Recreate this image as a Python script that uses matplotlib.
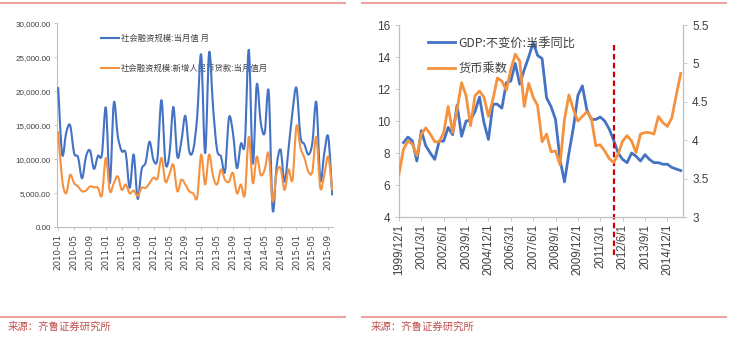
import numpy as np
import matplotlib
matplotlib.use("Agg")
import matplotlib.pyplot as plt
from matplotlib.path import Path
from matplotlib.patches import PathPatch
from matplotlib.lines import Line2D

plt.rcParams['font.family'] = ['Noto Sans CJK SC', 'DejaVu Sans']

# -------------------------------
# Left: 社会融资规模 (monthly, 2010-01 .. 2015-10)
# -------------------------------
months = ["%d-%02d" % (y, m) for y in range(2010, 2016) for m in range(1, 13)][:70]
tsf_total = [20500, 10700, 13900, 15000, 10900, 10300, 7200, 10400, 11300, 8600, 10500, 10700,
             17600, 6500, 18300, 13400, 11200, 10900, 5800, 10700, 4200, 8500, 9500, 12600,
             9900, 10200, 18700, 9500, 10700, 17700, 10400, 12600, 16400, 11200, 11400, 16300,
             25400, 10900, 25700, 17600, 11400, 10400, 8200, 16100, 13900, 8700, 12300, 12400,
             26100, 9400, 21000, 15400, 13900, 20000, 2600, 9000, 11400, 6700, 11500, 17000,
             20500, 13400, 12200, 10700, 12400, 18400, 7000, 10900, 13300, 4800]
tsf_loans = [14000, 7000, 5000, 7700, 6500, 6000, 5300, 5400, 6000, 5900, 5800, 4700,
             10200, 5300, 6500, 7500, 5500, 6300, 5000, 5400, 4600, 5800, 5800, 6500,
             7300, 7200, 10200, 6700, 7800, 9200, 5300, 7000, 6300, 5300, 5000, 4400,
             10700, 6300, 10700, 7500, 6300, 8500, 7000, 6700, 8000, 5000, 6300, 4800,
             13300, 6500, 10400, 7700, 8500, 10900, 3800, 8000, 8700, 5500, 8500, 7000,
             14900, 11700, 10200, 8200, 8200, 13300, 5800, 7700, 10400, 5500]
left_labels = ["社会融资规模:当月值 月", "社会融资规模:新增人民币贷款:当月值月"]

# -------------------------------
# Right: GDP vs 货币乘数 (quarterly, 1999/12 .. 2015/9)
# -------------------------------
quarters = ["%d/%d/1" % (1999 + (11 + 3 * k) // 12, (11 + 3 * k) % 12 + 1) for k in range(64)]
gdp = [np.nan, 8.65, 9.0, 8.75, 7.5, 9.4, 8.45, 8.0, 7.6, 8.75, 8.75, 9.6,
       9.15, 11.0, 9.05, 10.0, 10.05, 10.6, 11.5, 9.9, 8.85, 11.05, 11.05, 10.8,
       12.4, 12.5, 13.6, 12.3, 13.2, 14.0, 14.9, 14.1, 13.9, 11.45, 10.9, 10.1,
       7.6, 6.2, 8.0, 9.6, 11.6, 12.2, 10.7, 10.1, 10.1, 10.25, 10.0, 9.5,
       8.8, 8.0, 7.6, 7.4, 8.0, 7.8, 7.5, 7.9, 7.6, 7.4, 7.4, 7.3,
       7.3, 7.1, 7.0, 6.9]
multiplier = [3.56, 3.88, 3.99, 3.95, 3.80, 4.08, 4.16, 4.08, 3.98, 3.98, 4.10, 4.44,
              4.10, 4.40, 4.75, 4.58, 4.19, 4.58, 4.64, 4.56, 4.31, 4.53, 4.81, 4.77,
              4.65, 4.92, 5.12, 5.03, 4.44, 4.74, 4.56, 4.45, 3.98, 4.08, 3.85, 3.86,
              3.68, 4.27, 4.59, 4.40, 4.25, 4.31, 4.37, 4.29, 3.93, 3.94, 3.86, 3.76,
              3.71, 3.82, 3.99, 4.06, 3.99, 3.84, 4.08, 4.10, 4.10, 4.08, 4.31, 4.23,
              4.18, 4.29, 4.59, 4.87]
right_labels = ["GDP:不变价:当季同比", "货币乘数"]
policy_quarter = "2011/12/1"
source = "来源：齐鲁证券研究所"

blue = '#4472C4'
orange = '#F59240'
gray = '#BFBFBF'
txt = '#404040'


def smooth_path(x, y):
    # Excel-style smoothed line: Catmull-Rom segments as cubic Beziers
    verts = [(x[0], y[0])]
    codes = [Path.MOVETO]
    n = len(x)
    for k in range(n - 1):
        p0 = max(k - 1, 0)
        p3 = min(k + 2, n - 1)
        c1 = (x[k] + (x[k + 1] - x[p0]) / 6.0, y[k] + (y[k + 1] - y[p0]) / 6.0)
        c2 = (x[k + 1] - (x[p3] - x[k]) / 6.0, y[k + 1] - (y[p3] - y[k]) / 6.0)
        verts += [c1, c2, (x[k + 1], y[k + 1])]
        codes += [Path.CURVE4] * 3
    return Path(verts, codes)


fig = plt.figure(figsize=(7.33, 3.37), dpi=100)

# ---- left panel ----
ax1 = fig.add_axes([0.0778, 0.3255, 0.3765, 0.6053])
xm = np.arange(len(months))
for vals, col in [(tsf_total, blue), (tsf_loans, orange)]:
    ax1.add_patch(PathPatch(smooth_path(xm, np.array(vals, float)), fill=False,
                            edgecolor=col, lw=1.5, zorder=3, capstyle='round', joinstyle='round'))
ax1.set_xlim(-0.3, 69.2)
ax1.set_ylim(0, 30000)
ax1.set_yticks(np.arange(0, 30001, 5000))
ax1.set_yticklabels(["{:,.2f}".format(v) for v in np.arange(0, 30001, 5000)],
                    fontsize=5.8, color=txt, family=['Liberation Sans'])
ax1.set_xticks(xm[::4])
ax1.set_xticklabels(months[::4], rotation=90, fontsize=6.2, color=txt, family=['DejaVu Sans'])
ax1.tick_params(axis='both', length=2.5, width=0.6, color=gray, pad=2)
for s in ['top', 'right']:
    ax1.spines[s].set_visible(False)
for s in ['left', 'bottom']:
    ax1.spines[s].set_color(gray)
    ax1.spines[s].set_linewidth(0.8)
h1 = [Line2D([], [], color=blue, lw=1.5), Line2D([], [], color=orange, lw=1.5)]
leg1 = ax1.legend(h1, left_labels, loc='upper left', bbox_to_anchor=(0.16, 0.95), frameon=False,
                  fontsize=6, borderpad=0, borderaxespad=0, handlelength=2.1,
                  handletextpad=0.3, labelspacing=2.6)
for t in leg1.get_texts():
    t.set_color(txt)
leg1.set_zorder(1)

# ---- right panel ----
ax2 = fig.add_axes([0.5443, 0.356, 0.3875, 0.5697])
ax3 = ax2.twinx()
xq = np.arange(len(quarters))
ax2.plot(xq, gdp, color=blue, lw=2.0, zorder=3, solid_joinstyle='round')
ax3.plot(xq, multiplier, color=orange, lw=2.0, zorder=3, solid_joinstyle='round')
vx = quarters.index(policy_quarter)
ax2.plot([vx, vx], [1.6, 14.9], color='#CC0000', lw=1.6, ls=(0, (2.5, 1.5)),
         clip_on=False, zorder=5)
ax2.set_xlim(0, 63.5)
ax2.set_ylim(4, 16)
ax3.set_ylim(3, 5.5)
ax2.set_yticks(np.arange(4, 17, 2))
ax3.set_yticks(np.arange(3, 5.51, 0.5))
ax3.set_yticklabels(["3", "3.5", "4", "4.5", "5", "5.5"])
ax2.set_xticks(xq[::5])
ax2.set_xticklabels(quarters[::5], rotation=90, fontsize=8.3, color=txt,
                    family=['Liberation Sans'])
for a in (ax2, ax3):
    a.tick_params(axis='y', labelsize=8.5, labelcolor=txt, length=3, width=0.6, color=gray)
    for lab in a.get_yticklabels():
        lab.set_family(['Liberation Sans'])
    a.spines['top'].set_visible(False)
    for s in ['left', 'right', 'bottom']:
        a.spines[s].set_color(gray)
        a.spines[s].set_linewidth(0.8)
ax2.tick_params(axis='x', length=3, width=0.6, color=gray, pad=2)
h2 = [Line2D([], [], color=blue, lw=2.0), Line2D([], [], color=orange, lw=2.0)]
leg2 = ax3.legend(h2, right_labels, loc='upper left', bbox_to_anchor=(0.102, 0.94), frameon=False,
                  fontsize=8.8, borderpad=0, borderaxespad=0, handlelength=2.2,
                  handletextpad=0.3, labelspacing=1.05)
for t in leg2.get_texts():
    t.set_color(txt)
leg2.set_zorder(1)

# ---- decorations: pink rules and source notes ----
pink = '#EBA4A4'
for x0, x1 in [(0.0, 0.471), (0.494, 0.99)]:
    fig.add_artist(Line2D([x0, x1], [0.99, 0.99], color=pink, lw=1.5, transform=fig.transFigure))
    fig.add_artist(Line2D([x0, x1], [0.06, 0.06], color=pink, lw=1.5, transform=fig.transFigure))
fig.text(0.011, 0.03, source, color='#C0504D', fontsize=7.5, va='center')
fig.text(0.505, 0.03, source, color='#C0504D', fontsize=7.5, va='center')

fig.savefig("out.png", dpi=100)
